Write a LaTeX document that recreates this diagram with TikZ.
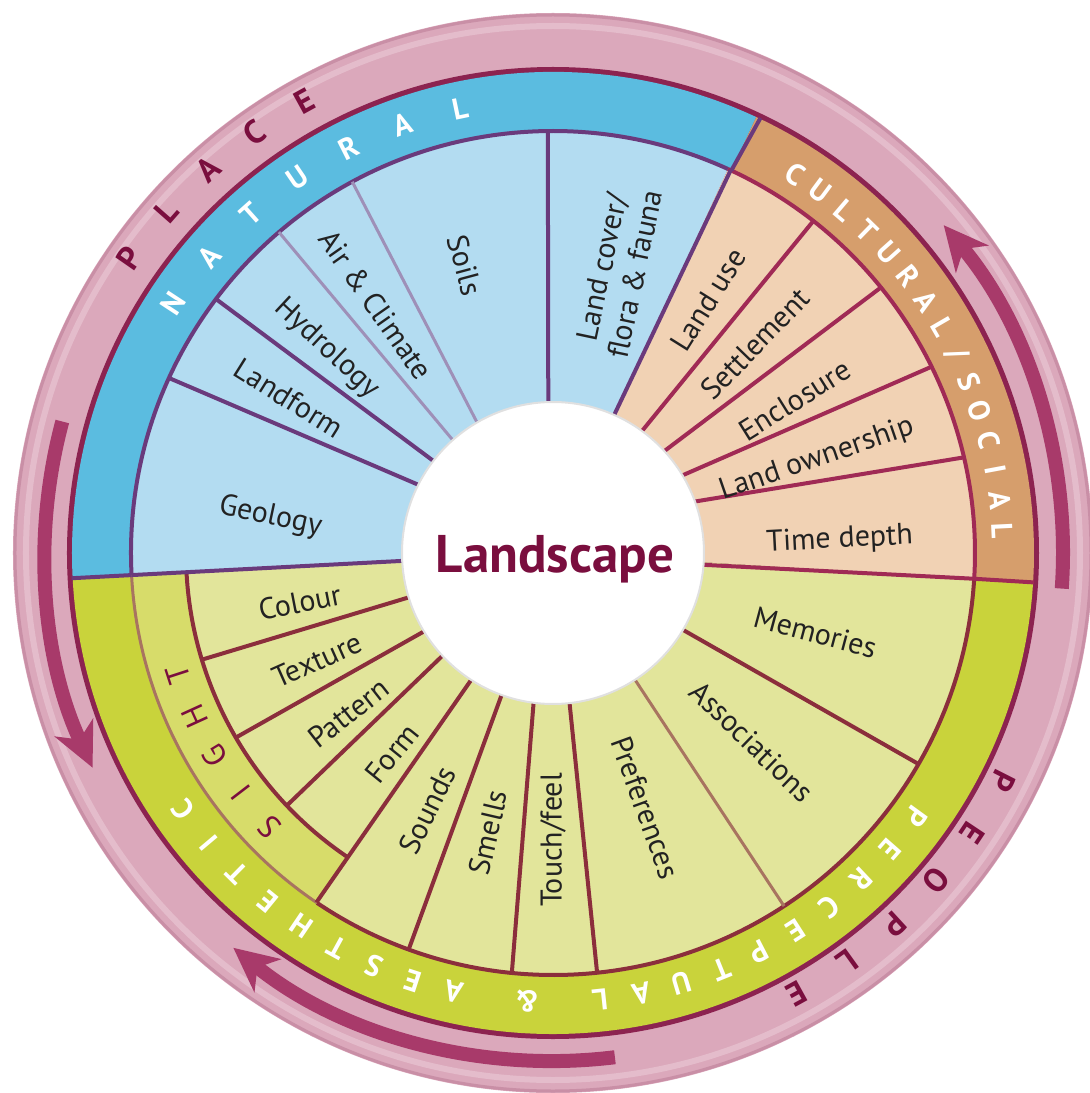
\documentclass[tikz,border=0pt]{standalone}
\usepackage{fontspec}
\setmainfont{PT Sans}
\usetikzlibrary{arrows.meta}
\definecolor{pinkring}{HTML}{DBA8BB}
\definecolor{pinkout}{HTML}{C98FA6}
\definecolor{pinkhi}{HTML}{E4BCCB}
\definecolor{pinkedge}{HTML}{8C2350}
\definecolor{arrowc}{HTML}{A83A6A}
\definecolor{natring}{HTML}{5BBCE0}
\definecolor{natfill}{HTML}{B3DCF1}
\definecolor{natline}{HTML}{6A3A7C}
\definecolor{natlight}{HTML}{9E90B8}
\definecolor{culring}{HTML}{D69E6C}
\definecolor{culfill}{HTML}{F1D2B4}
\definecolor{culline}{HTML}{A02A55}
\definecolor{perring}{HTML}{C9D33B}
\definecolor{perfill}{HTML}{E2E59B}
\definecolor{perline}{HTML}{8B2E3C}
\definecolor{perlight}{HTML}{A87460}
\definecolor{sightring}{HTML}{D7DC6A}
\definecolor{maroon}{HTML}{7A0E3E}
\definecolor{labeltxt}{HTML}{222222}
\newcommand{\annsec}[5]{%
  \fill[#1] (#2:#4) arc[start angle=#2, end angle=#3, radius=#4] -- (#3:#5) arc[start angle=#3, end angle=#2, radius=#5] -- cycle;}
\begin{document}
\begin{tikzpicture}[x=1pt,y=1pt,
  lbl/.style={font=\fontsize{30}{34}\selectfont, text=labeltxt, inner sep=0pt, align=center},
  ringtxt/.style={font=\fontsize{30}{30}\selectfont\bfseries, text=white, inner sep=0pt},
  placetxt/.style={font=\fontsize{33}{33}\selectfont\bfseries, text=maroon, inner sep=0pt},
  sighttxt/.style={font=\fontsize{32}{32}\selectfont, text=maroon, inner sep=0pt},
  natsep/.style={draw=natline, line width=4pt},
  natsepl/.style={draw=natlight, line width=3pt},
  culsep/.style={draw=culline, line width=4pt},
  persep/.style={draw=perline, line width=4pt},
  persepl/.style={draw=perlight, line width=3pt},
  arrowsty/.style={draw=arrowc, line width=14pt, -{Stealth[length=44pt,width=42pt,inset=13pt]}}
]
\fill[white] (-553pt,-540pt) rectangle (537pt,553pt);
\useasboundingbox (-553pt,-540pt) rectangle (537pt,553pt);

% outer pink ring
\fill[pinkring] (0,0) circle[radius=540pt];
\draw[pinkout, line width=3pt] (0,0) circle[radius=538pt];
\draw[pinkhi, line width=6pt] (0,0) circle[radius=527pt];
\fill[pinkedge] (0,0) circle[radius=486pt];

% category rings
\annsec{natring}{183}{65}{422pt}{481pt}
\annsec{culring}{65}{-3.5}{422pt}{481pt}
\annsec{perring}{-3.5}{-177}{422pt}{481pt}

% sector areas
\annsec{natfill}{183}{65.5}{150pt}{422pt}
\annsec{culfill}{65.5}{-3.5}{150pt}{422pt}
\annsec{perfill}{-3.5}{-177}{150pt}{422pt}
\annsec{sightring}{183}{236}{367pt}{422pt}

% circle lines
\draw[natsep] (183:422pt) arc[start angle=183, end angle=65.5, radius=422pt];
\draw[culsep] (65.5:422pt) arc[start angle=65.5, end angle=-3.5, radius=422pt];
\draw[persep] (-3.5:422pt) arc[start angle=-3.5, end angle=-124, radius=422pt];
\draw[persepl] (236:422pt) arc[start angle=236, end angle=183, radius=422pt];
\draw[persep] (236:367pt) arc[start angle=236, end angle=183, radius=367pt];

% group boundaries in category ring
\draw[natsep] (65:422pt) -- (64.5:482pt);
\draw[culsep] (-3.5:422pt) -- (-3.5:482pt);
\draw[natsep] (183:422pt) -- (183:482pt);

% natural separators
\draw[natsep] (183:150pt) -- (183:422pt);
\draw[natsep] (153.1:150pt) -- (155.5:422pt);
\draw[natsep] (142.4:150pt) -- (143:422pt);
\draw[natsepl] (131.6:150pt) -- (130.5:422pt);
\draw[natsepl] (120.2:150pt) -- (118.4:422pt);
\draw[natsep] (91.8:150pt) -- (90.7:422pt);
\draw[natsep] (66.1:150pt) -- (65.1:422pt);
% cultural separators
\draw[culsep] (53.9:150pt) -- (51.9:422pt);
\draw[culsep] (42.5:150pt) -- (39:422pt);
\draw[culsep] (31:150pt) -- (26.2:422pt);
\draw[culsep] (20:150pt) -- (13.1:422pt);
\draw[culsep] (-4.5:150pt) -- (-3.5:422pt);
% perceptual separators
\draw[persep] (-30.6:150pt) -- (-30:422pt);
\draw[persepl] (-57.1:150pt) -- (-56.8:422pt);
\draw[persep] (-83.7:150pt) -- (-84:422pt);
\draw[persep] (262.6:150pt) -- (264.4:422pt);
\draw[persep] (250.1:150pt) -- (250:422pt);
\draw[persep] (237.2:150pt) -- (235.9:422pt);
\draw[persep] (222.9:150pt) -- (223.5:367pt);
\draw[persep] (211.3:150pt) -- (210.2:367pt);
\draw[persep] (197.1:150pt) -- (196.9:367pt);

% centre
\fill[white] (0,0) circle[radius=151pt];
\draw[black!12, line width=2pt] (0,0) circle[radius=151pt];
\node[font=\fontsize{53}{53}\selectfont\bfseries, text=maroon, anchor=base, inner sep=0pt] (centre) at (2pt,-19pt) {Landscape};

% sector labels
\node[lbl, rotate=-12] (geology) at (172.7:285pt) {Geology};
\node[lbl, rotate=-32] (landform) at (149.6:306pt) {Landform};
\node[lbl, rotate=-43] (hydrology) at (137.9:305pt) {Hydrology};
\node[lbl, rotate=-55] (air) at (125.5:305pt) {Air \& Climate};
\node[lbl, rotate=-75] (soils) at (107:301pt) {Soils};
\node[lbl, rotate=78] (landcover) at (77:290pt) {Land cover/\\flora \& fauna};
\node[lbl, rotate=58] (landuse) at (58.5:297pt) {Land use};
\node[lbl, rotate=46] (settlement) at (46:291pt) {Settlement};
\node[lbl, rotate=32] (enclosure) at (32.3:286pt) {Enclosure};
\node[lbl, rotate=19] (ownership) at (19.5:280pt) {Land ownership};
\node[lbl, rotate=3] (timedepth) at (2.6:287pt) {Time depth};
\node[lbl, rotate=-15] (memories) at (-16.8:274pt) {Memories};
\node[lbl, rotate=-44] (associations) at (-43.5:274pt) {Associations};
\node[lbl, rotate=-70] (preferences) at (-70:271pt) {Preferences};
\node[lbl, rotate=90] (touch) at (270:287pt) {Touch/feel};
\node[lbl, rotate=77] (smells) at (256.9:287pt) {Smells};
\node[lbl, rotate=64] (sounds) at (244:286pt) {Sounds};
\node[lbl, rotate=51] (form) at (231.2:257pt) {Form};
\node[lbl, rotate=38] (pattern) at (218:260pt) {Pattern};
\node[lbl, rotate=24] (texture) at (204.4:259pt) {Texture};
\node[lbl, rotate=11] (colour) at (191:258pt) {Colour};

% ring texts
\foreach \ch [count=\i from 0] in {N,A,T,U,R,A,L}{
  \pgfmathsetmacro\ang{146.7-7.48*\i}
  \node[ringtxt, rotate=\ang-90] (nat\i) at (\ang:454pt) {\ch};
}
\foreach \ch [count=\i from 0] in {C,U,L,T,U,R,A,L,/,S,O,C,I,A,L}{
  \pgfmathsetmacro\ang{57.4-3.9*\i}
  \node[ringtxt, rotate=\ang-90] (cul\i) at (\ang:450pt) {\ch};
}
\foreach \ch [count=\i from 0] in {P,E,R,C,E,P,T,U,A,L}{
  \pgfmathsetmacro\ang{-36-5.33*\i}
  \node[ringtxt, rotate=\ang-90] (per\i) at (\ang:449pt) {\ch};
}
\node[ringtxt, rotate=-183.3] (amp) at (-93.3:449pt) {\&};
\foreach \ch [count=\i from 0] in {A,E,S,T,H,E,T,I,C}{
  \pgfmathsetmacro\ang{257.2-5.3*\i}
  \node[ringtxt, rotate=\ang-90] (aes\i) at (\ang:450pt) {\ch};
}
\foreach \ch [count=\i from 0] in {S,I,G,H,T}{
  \pgfmathsetmacro\ang{224-6.5*\i}
  \node[sighttxt, rotate=\ang-90] (sig\i) at (\ang:394pt) {\ch};
}
\foreach \ch [count=\i from 0] in {P,L,A,C,E}{
  \pgfmathsetmacro\ang{145.2-6.6*\i}
  \node[placetxt, rotate=\ang-90] (pla\i) at (\ang:516pt) {\ch};
}
\foreach \ch [count=\i from 0] in {P,E,O,P,L,E}{
  \pgfmathsetmacro\ang{-26.9-6.84*\i}
  \node[placetxt, rotate=\ang-90] (peo\i) at (\ang:504pt) {\ch};
}

% arrows
\draw[arrowsty] (165:508pt) arc[start angle=165, end angle=205, radius=508pt];
\draw[arrowsty] (277:508pt) arc[start angle=277, end angle=231, radius=508pt];
\draw[arrowsty] (-4:510pt) arc[start angle=-4, end angle=40, radius=510pt];
\end{tikzpicture}
\end{document}
